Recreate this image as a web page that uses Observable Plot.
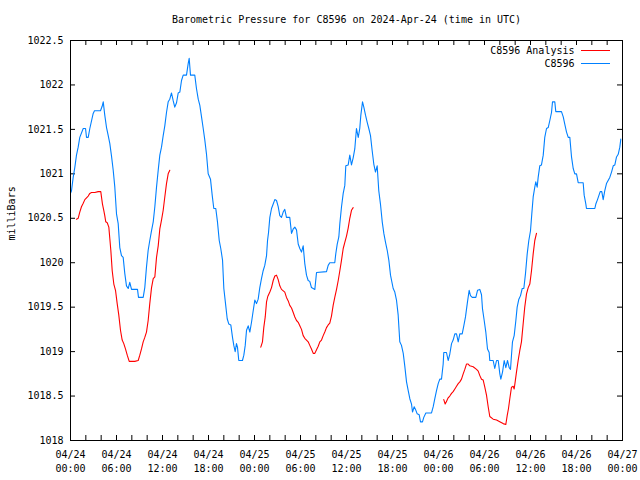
<!DOCTYPE html>
<html>
<head>
<meta charset="utf-8">
<script src="https://cdn.jsdelivr.net/npm/d3@7"></script>
<script src="https://cdn.jsdelivr.net/npm/@observablehq/plot@0.6"></script>
<style>
  html, body { margin: 0; padding: 0; background: #fff; }
  #chart { width: 640px; height: 480px; }
</style>
</head>
<body>
<div id="chart"></div>
<script>
// ---- data (hours after 2024-04-24 00:00 UTC, pressure in milliBars) ----
const startUTC = Date.UTC(2024, 3, 24);

const stationHours = [0,0.13,0.35,0.56,0.78,1.0,1.21,1.66,1.96,2.09,2.31,2.52,2.96,3.13,3.91,4.13,4.27,4.47,4.70,4.92,5.13,5.35,5.57,5.78,6.0,6.22,6.43,6.65,6.87,7.08,7.30,7.53,7.73,7.96,8.74,8.87,9.48,9.69,9.91,10.13,10.34,10.57,10.79,11.0,11.22,11.44,11.65,11.87,12.09,12.3,12.52,12.74,12.95,13.17,13.40,13.60,13.83,14.05,14.26,14.48,14.70,15.13,15.35,15.48,15.65,16.21,16.43,16.66,16.87,17.09,17.31,17.52,17.74,17.96,18.26,18.48,18.69,18.95,19.17,19.40,19.6,19.83,20.0,20.22,20.44,20.65,20.91,21.13,21.30,21.48,21.65,21.78,21.95,22.43,22.61,22.79,22.96,23.18,23.39,23.61,23.83,24.04,24.26,24.48,24.69,24.91,25.13,25.34,25.57,25.70,25.83,26.0,26.22,26.44,26.65,26.87,27.09,27.3,27.52,27.74,27.95,28.17,28.6,28.83,29.05,29.26,29.48,29.70,29.91,30.13,30.35,30.56,30.78,31.0,31.21,31.43,31.87,32.09,33.39,33.61,33.82,34.47,34.60,34.79,35.0,35.13,35.35,35.57,35.78,35.91,36.22,36.43,36.65,36.87,37.08,37.30,37.53,37.73,37.87,38.09,38.26,38.48,38.70,38.91,39.13,39.35,39.56,39.78,40.0,40.21,40.43,40.66,40.87,41.09,41.31,41.52,41.74,42.09,42.3,42.52,42.74,42.95,43.17,43.40,43.60,43.83,44.05,44.26,44.48,44.61,44.83,45.0,45.22,45.48,45.65,45.91,46.08,46.35,47.09,47.31,47.52,47.74,47.96,48.17,48.39,48.61,48.69,49.04,49.26,49.47,49.70,49.91,50.13,50.35,50.57,50.78,51.09,51.30,51.52,51.78,52.0,52.17,52.40,52.87,53.09,53.39,53.61,53.74,53.96,54.17,54.39,54.61,54.69,55.13,55.34,55.57,55.79,56.0,56.13,56.35,56.57,56.78,57.0,57.22,57.39,57.52,57.65,57.87,58.09,58.26,58.48,58.70,58.92,59.13,59.35,59.57,59.78,60.0,60.17,60.35,60.56,60.69,60.87,61.0,61.21,61.43,61.66,61.86,62.09,62.31,62.52,62.74,62.87,63.17,63.30,64.04,64.27,64.47,64.70,64.92,65.13,65.35,65.57,65.78,66.0,66.22,66.87,67.0,67.22,67.30,68.39,68.52,68.74,69.09,69.30,69.48,69.69,69.91,70.34,70.57,70.79,71.0,71.22,71.44,71.65,71.78];
const stationPressure = [1020.78,1020.81,1020.96,1021.07,1021.21,1021.3,1021.41,1021.51,1021.51,1021.41,1021.41,1021.51,1021.68,1021.71,1021.71,1021.76,1021.81,1021.66,1021.52,1021.43,1021.34,1021.2,1021.04,1020.85,1020.55,1020.44,1020.17,1020.08,1020.06,1019.88,1019.74,1019.71,1019.78,1019.70,1019.70,1019.61,1019.61,1019.72,1019.95,1020.14,1020.25,1020.36,1020.46,1020.63,1020.85,1021.04,1021.21,1021.30,1021.43,1021.54,1021.69,1021.81,1021.84,1021.91,1021.82,1021.75,1021.80,1021.91,1021.92,1022.05,1022.11,1022.11,1022.24,1022.30,1022.11,1022.11,1021.96,1021.84,1021.77,1021.64,1021.51,1021.38,1021.22,1021.0,1020.94,1020.76,1020.61,1020.61,1020.46,1020.25,1020.16,1020.03,1019.71,1019.54,1019.37,1019.31,1019.30,1019.16,1019.07,1019.0,1019.09,1019.05,1018.90,1018.90,1018.96,1019.07,1019.24,1019.29,1019.22,1019.33,1019.46,1019.58,1019.54,1019.59,1019.72,1019.82,1019.91,1019.97,1020.08,1020.25,1020.34,1020.51,1020.61,1020.66,1020.71,1020.70,1020.63,1020.53,1020.51,1020.57,1020.60,1020.51,1020.51,1020.33,1020.38,1020.40,1020.37,1020.21,1020.16,1020.12,1020.19,1019.99,1019.86,1019.80,1019.79,1019.72,1019.70,1019.89,1019.90,1019.97,1020.0,1020.0,1020.10,1020.21,1020.29,1020.44,1020.63,1020.78,1020.87,1021.09,1021.10,1021.21,1021.10,1021.18,1021.28,1021.51,1021.41,1021.51,1021.66,1021.81,1021.75,1021.66,1021.58,1021.51,1021.43,1021.26,1021.11,1021.02,1021.09,1020.81,1020.66,1020.46,1020.33,1020.23,1020.14,1020.03,1019.86,1019.71,1019.67,1019.58,1019.41,1019.11,1019.07,1018.98,1018.84,1018.66,1018.56,1018.47,1018.41,1018.32,1018.38,1018.35,1018.30,1018.29,1018.21,1018.21,1018.26,1018.31,1018.31,1018.38,1018.47,1018.56,1018.64,1018.69,1018.69,1018.86,1018.99,1018.99,1018.90,1018.97,1019.09,1019.13,1019.20,1019.20,1019.11,1019.20,1019.20,1019.29,1019.39,1019.56,1019.69,1019.63,1019.61,1019.61,1019.69,1019.70,1019.64,1019.48,1019.35,1019.22,1019.03,1018.99,1018.90,1018.90,1018.81,1018.90,1018.90,1018.75,1018.69,1018.77,1018.90,1018.82,1018.90,1018.82,1018.80,1018.96,1019.11,1019.18,1019.35,1019.50,1019.59,1019.63,1019.71,1019.71,1019.88,1020.10,1020.25,1020.36,1020.55,1020.74,1020.85,1020.91,1020.85,1020.96,1021.09,1021.10,1021.21,1021.41,1021.51,1021.52,1021.60,1021.69,1021.81,1021.81,1021.70,1021.70,1021.64,1021.56,1021.47,1021.41,1021.41,1021.19,1021.06,1021.0,1021.0,1020.90,1020.90,1020.76,1020.66,1020.61,1020.61,1020.66,1020.71,1020.80,1020.80,1020.71,1020.81,1020.89,1020.96,1021.02,1021.09,1021.10,1021.19,1021.22,1021.30,1021.39];

// Analysis: three runs, separated by NaN gaps
const analysisHours = [0.78,1.0,1.21,1.43,1.66,1.87,2.09,2.31,2.52,2.74,3.17,3.61,3.95,4.04,4.17,4.34,4.47,4.60,4.79,5.0,5.13,5.26,5.44,5.65,5.87,6.09,6.30,6.52,6.74,6.95,7.17,7.40,7.66,8.39,8.83,9.04,9.26,9.48,9.69,9.91,10.13,10.34,10.57,10.79,11.0,11.22,11.44,11.65,11.87,12.09,12.30,12.52,12.74,12.95,
  18.0,
  24.82,25.04,25.21,25.40,25.57,25.73,26.0,26.22,26.44,26.65,26.87,27.09,27.30,27.52,27.95,28.17,28.40,28.60,28.83,29.05,29.26,29.48,29.70,29.91,30.13,30.35,30.56,30.78,31.0,31.21,31.43,31.66,31.87,32.09,32.31,32.52,32.74,32.96,33.17,33.39,33.61,33.82,34.04,34.26,34.47,34.70,34.92,35.13,35.35,35.57,35.78,36.0,36.22,36.43,36.65,36.87,
  42.0,
  48.69,48.87,49.04,49.26,49.47,49.70,49.91,50.13,50.35,50.57,50.78,51.0,51.22,51.43,51.65,51.87,52.08,52.52,52.96,53.18,53.39,53.61,53.83,54.04,54.26,54.48,54.69,55.13,55.57,55.99,56.43,56.78,56.96,57.13,57.30,57.52,57.74,57.87,58.0,58.17,58.39,58.60,58.82,59.04,59.25,59.48,59.70,59.91,60.13,60.35,60.56,60.78];
const analysisPressure = [1020.49,1020.50,1020.57,1020.63,1020.67,1020.71,1020.73,1020.75,1020.78,1020.79,1020.79,1020.80,1020.80,1020.74,1020.66,1020.59,1020.53,1020.46,1020.45,1020.40,1020.27,1020.14,1019.91,1019.76,1019.69,1019.54,1019.41,1019.24,1019.13,1019.09,1019.03,1018.96,1018.89,1018.89,1018.90,1018.96,1019.03,1019.11,1019.16,1019.22,1019.35,1019.54,1019.72,1019.82,1019.84,1020.06,1020.19,1020.38,1020.48,1020.59,1020.74,1020.89,1021.0,1021.04,
  NaN,
  1019.05,1019.11,1019.27,1019.39,1019.56,1019.62,1019.67,1019.72,1019.80,1019.85,1019.86,1019.81,1019.74,1019.70,1019.67,1019.61,1019.57,1019.52,1019.49,1019.44,1019.39,1019.35,1019.33,1019.29,1019.25,1019.18,1019.15,1019.13,1019.11,1019.07,1019.03,1018.98,1018.98,1019.02,1019.06,1019.11,1019.13,1019.18,1019.22,1019.27,1019.30,1019.32,1019.40,1019.52,1019.61,1019.70,1019.80,1019.91,1020.03,1020.16,1020.23,1020.30,1020.39,1020.50,1020.59,1020.62,
  NaN,
  1018.46,1018.41,1018.44,1018.48,1018.50,1018.53,1018.55,1018.58,1018.61,1018.64,1018.66,1018.69,1018.75,1018.80,1018.86,1018.86,1018.84,1018.83,1018.80,1018.78,1018.73,1018.69,1018.68,1018.60,1018.51,1018.38,1018.27,1018.24,1018.23,1018.21,1018.19,1018.18,1018.28,1018.36,1018.47,1018.60,1018.61,1018.58,1018.66,1018.77,1018.90,1019.01,1019.11,1019.31,1019.50,1019.65,1019.72,1019.76,1019.91,1020.10,1020.25,1020.33];

const xTickHours = [0,6,12,18,24,30,36,42,48,54,60,66,72];
const xTickLabels = ["04/24\n00:00","04/24\n06:00","04/24\n12:00","04/24\n18:00","04/25\n00:00","04/25\n06:00","04/25\n12:00","04/25\n18:00","04/26\n00:00","04/26\n06:00","04/26\n12:00","04/26\n18:00","04/27\n00:00"];
const xMinorHours = d3.range(0, 73, 2);
const yTicks = [1018,1018.5,1019,1019.5,1020,1020.5,1021,1021.5,1022,1022.5];
const yTickLabels = ["1018","1018.5","1019","1019.5","1020","1020.5","1021","1021.5","1022","1022.5"];

const seriesNames = ["C8596 Analysis", "C8596"];
const seriesColors = ["#ff0000", "#0080ff"];
const titleText = "Barometric Pressure for C8596 on 2024-Apr-24 (time in UTC)";
const yLabelText = "milliBars";

// ---- build ----
const toDate = h => new Date(startUTC + h * 3600e3);
const station = stationHours.map((h, i) => ({t: toDate(h), p: stationPressure[i]}));
const analysis = analysisHours.map((h, i) => ({t: toDate(h), p: analysisPressure[i]}));
const xTickDates = xTickHours.map(toDate);
const xLabelMap = new Map(xTickHours.map((h, i) => [+toDate(h), xTickLabels[i]]));
const yLabelMap = new Map(yTicks.map((v, i) => [v, yTickLabels[i]]));
const minorDates = xMinorHours.map(toDate);

const W = 640, H = 480, mL = 70, mR = 18, mT = 40, mB = 40;
const pw = W - mL - mR, ph = H - mT - mB, tk = 5;

const chart = Plot.plot({
  width: W, height: H,
  marginLeft: mL, marginRight: mR, marginTop: mT, marginBottom: mB,
  style: {fontFamily: "'DejaVu Sans Mono', monospace", fontSize: "10px", background: "#fff", color: "#000", overflow: "visible"},
  x: {type: "utc", domain: [toDate(0), toDate(72)]},
  y: {domain: [1018, 1022.5]},
  marks: [
    Plot.axisX(xTickDates, {tickSize: 0, tickPadding: 8, lineHeight: 1.35, tickFormat: d => xLabelMap.get(+d), label: null}),
    Plot.axisY(yTicks, {tickSize: 0, tickPadding: 7, tickFormat: d => yLabelMap.get(d), label: null}),
    // inward ticks (mirrored on all sides)
    Plot.tickX(minorDates, {x: d => d, insetTop: ph - tk, stroke: "#000"}),
    Plot.tickX(minorDates, {x: d => d, insetBottom: ph - tk, stroke: "#000"}),
    Plot.tickY(yTicks, {y: d => d, insetRight: pw - tk, stroke: "#000"}),
    Plot.tickY(yTicks, {y: d => d, insetLeft: pw - tk, stroke: "#000"}),
    Plot.line(analysis, {x: "t", y: "p", stroke: seriesColors[0], strokeWidth: 1.1}),
    Plot.line(station, {x: "t", y: "p", stroke: seriesColors[1], strokeWidth: 1.1}),
    Plot.frame({stroke: "#000"}),
    Plot.text([titleText], {frameAnchor: "top", dy: -21, lineAnchor: "middle", fill: "#000"}),
    Plot.text([yLabelText], {frameAnchor: "left", dx: -59, rotate: -90, lineAnchor: "middle", fill: "#000"}),
    Plot.text([seriesNames[0]], {frameAnchor: "top-right", dx: -48, dy: 10, textAnchor: "end", lineAnchor: "middle", fill: "#000"}),
    Plot.text([seriesNames[1]], {frameAnchor: "top-right", dx: -48, dy: 23, textAnchor: "end", lineAnchor: "middle", fill: "#000"})
  ]
});

// legend line swatches
const svg = d3.select(chart);
[0, 1].forEach(i => {
  svg.append("line")
    .attr("x1", W - mR - 41).attr("x2", W - mR - 12)
    .attr("y1", mT + 10 + i * 13 + 0.5).attr("y2", mT + 10 + i * 13 + 0.5)
    .attr("stroke", seriesColors[i]).attr("stroke-width", 1);
});

document.getElementById("chart").appendChild(chart);
</script>
</body>
</html>
